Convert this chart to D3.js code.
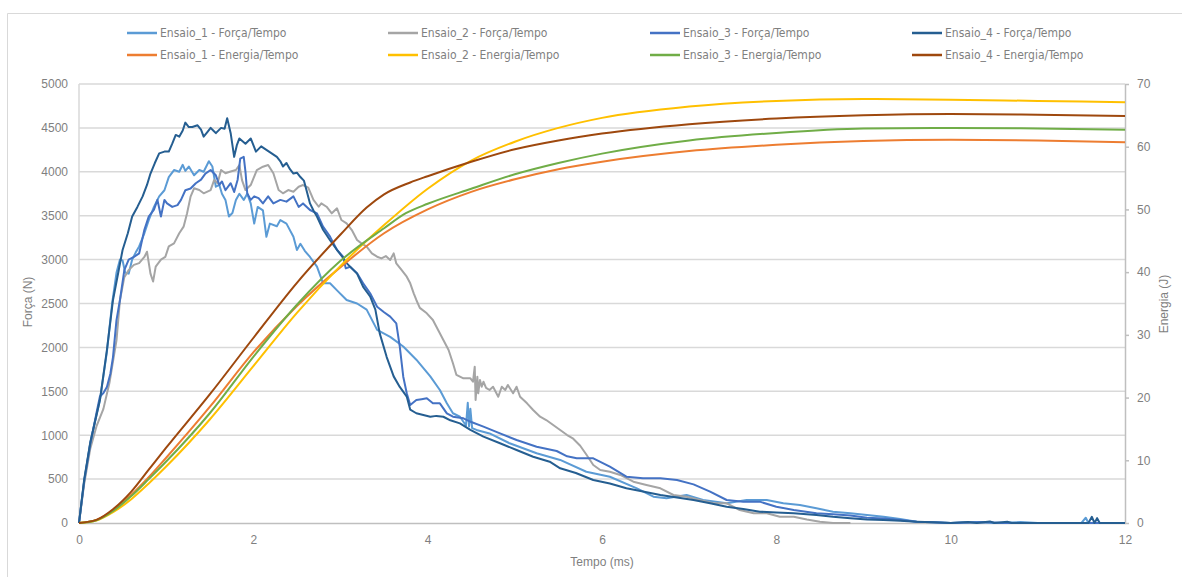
<!DOCTYPE html>
<html>
<head>
<meta charset="utf-8">
<script src="https://cdn.jsdelivr.net/npm/d3@7"></script>
<style>
  body { margin: 0; background: #ffffff; }
  svg text { font-family: "Liberation Sans", Arial, sans-serif; fill: #7f7f7f; }
  .legend text { font-family: "Liberation Sans Narrow", "DejaVu Sans Condensed", Arial, sans-serif; }
</style>
</head>
<body>
<svg id="chart" width="1182" height="577"></svg>
<script>
// ---- Axis ticks ----
const tempoTicks = [0, 2, 4, 6, 8, 10, 12];
const forcaTicks = [0, 500, 1000, 1500, 2000, 2500, 3000, 3500, 4000, 4500, 5000];
const energiaTicks = [0, 10, 20, 30, 40, 50, 60, 70];

// ---- Series names ----
const forcaNames = ["Ensaio_1 - Força/Tempo", "Ensaio_2 - Força/Tempo", "Ensaio_3 - Força/Tempo", "Ensaio_4 - Força/Tempo"];
const energiaNames = ["Ensaio_1 - Energia/Tempo", "Ensaio_2 - Energia/Tempo", "Ensaio_3 - Energia/Tempo", "Ensaio_4 - Energia/Tempo"];
const forcaColors = ["#5b9bd5", "#a5a5a5", "#4472c4", "#255e91"];
const energiaColors = ["#ed7d31", "#ffc000", "#70ad47", "#9e480e"];

// ---- Força (N) vs Tempo (ms): [tempo, força] ----
const forcaEnsaio1 = [[0,0],[0.06,480],[0.13,920],[0.24,1400],[0.32,1950],[0.38,2500],[0.43,2850],[0.47,3000],[0.5,2990],[0.53,2850],[0.57,2840],[0.61,3000],[0.65,3080],[0.69,3150],[0.75,3300],[0.8,3450],[0.86,3600],[0.92,3720],[0.98,3790],[1.03,3940],[1.09,4020],[1.15,4000],[1.19,4080],[1.22,4010],[1.26,4060],[1.32,3960],[1.38,4020],[1.43,4000],[1.49,4120],[1.53,4060],[1.57,3830],[1.61,3850],[1.64,3750],[1.68,3680],[1.72,3490],[1.76,3530],[1.8,3680],[1.84,3750],[1.89,3680],[1.93,3750],[1.97,3640],[2.01,3410],[2.05,3600],[2.11,3560],[2.15,3260],[2.19,3410],[2.27,3380],[2.31,3450],[2.38,3410],[2.46,3260],[2.5,3110],[2.54,3180],[2.59,3100],[2.65,3030],[2.73,2920],[2.8,2730],[2.88,2730],[2.96,2650],[3.07,2540],[3.19,2500],[3.3,2430],[3.42,2200],[3.57,2120],[3.72,2010],[3.87,1860],[4.03,1670],[4.14,1515],[4.22,1363],[4.29,1250],[4.37,1210],[4.44,1110],[4.46,1370],[4.475,1100],[4.49,1300],[4.51,1080],[4.56,1060],[4.71,1020],[4.94,908],[5.25,794],[5.52,718],[5.82,584],[6.09,527],[6.4,395],[6.59,300],[6.74,281],[6.97,319],[7.16,262],[7.43,224],[7.66,262],[7.89,262],[8.08,224],[8.27,205],[8.46,167],[8.65,129],[8.85,110],[9.04,90],[9.23,72],[9.42,45],[9.61,15],[9.8,8],[10.0,0],[10.3,12],[10.5,0],[10.8,10],[11.0,0],[11.5,0],[11.55,60],[11.58,0],[12,0]];

const forcaEnsaio2 = [[0,0],[0.06,450],[0.13,850],[0.2,1100],[0.28,1300],[0.35,1600],[0.43,2080],[0.47,2540],[0.52,2800],[0.57,2880],[0.63,2940],[0.69,2960],[0.75,3030],[0.78,3090],[0.82,2840],[0.85,2750],[0.88,2920],[0.94,3000],[0.99,3030],[1.03,3150],[1.09,3185],[1.15,3300],[1.2,3375],[1.24,3527],[1.28,3717],[1.32,3812],[1.38,3792],[1.43,3755],[1.51,3792],[1.55,3906],[1.59,3870],[1.63,4020],[1.68,3983],[1.73,4000],[1.8,4020],[1.84,4077],[1.87,3906],[1.91,3792],[1.97,3849],[2.04,4020],[2.11,4058],[2.17,4077],[2.23,3983],[2.29,3792],[2.34,3755],[2.4,3792],[2.46,3773],[2.52,3830],[2.57,3849],[2.63,3820],[2.69,3679],[2.75,3602],[2.78,3641],[2.84,3602],[2.9,3527],[2.96,3584],[3.01,3451],[3.07,3413],[3.13,3337],[3.19,3223],[3.24,3185],[3.3,3147],[3.36,3071],[3.42,3033],[3.47,3014],[3.52,3040],[3.57,2995],[3.61,3071],[3.64,2957],[3.7,2882],[3.76,2805],[3.8,2730],[3.84,2616],[3.87,2540],[3.91,2450],[3.99,2388],[4.06,2312],[4.12,2198],[4.18,2084],[4.24,1970],[4.29,1819],[4.33,1686],[4.41,1648],[4.49,1648],[4.52,1609],[4.54,1780],[4.55,1401],[4.57,1666],[4.58,1477],[4.6,1629],[4.62,1552],[4.64,1609],[4.67,1540],[4.71,1515],[4.75,1552],[4.81,1438],[4.85,1552],[4.89,1515],[4.92,1572],[4.98,1477],[5.02,1552],[5.06,1438],[5.14,1363],[5.21,1287],[5.29,1211],[5.36,1173],[5.44,1116],[5.52,1059],[5.6,1002],[5.67,960],[5.75,880],[5.82,780],[5.9,660],[5.98,604],[6.09,584],[6.21,547],[6.36,470],[6.51,433],[6.67,395],[6.82,319],[6.97,300],[7.12,262],[7.28,224],[7.43,224],[7.58,148],[7.74,110],[7.89,110],[8.04,72],[8.2,72],[8.35,40],[8.5,15],[8.65,0],[8.85,0]];

const forcaEnsaio3 = [[0,0],[0.06,480],[0.13,900],[0.2,1250],[0.24,1440],[0.28,1480],[0.32,1550],[0.36,1700],[0.39,1890],[0.43,2310],[0.47,2540],[0.52,2880],[0.57,3000],[0.63,3030],[0.69,3070],[0.75,3340],[0.8,3490],[0.86,3570],[0.9,3680],[0.94,3490],[0.98,3680],[1.01,3640],[1.07,3600],[1.13,3620],[1.17,3680],[1.22,3790],[1.28,3810],[1.34,3870],[1.4,3910],[1.45,3980],[1.51,4020],[1.57,3960],[1.61,3850],[1.64,3890],[1.68,3790],[1.74,3870],[1.78,3770],[1.82,3910],[1.85,4150],[1.89,4170],[1.91,4000],[1.93,3755],[1.97,3680],[2.01,3720],[2.06,3700],[2.11,3640],[2.17,3720],[2.23,3640],[2.31,3680],[2.38,3660],[2.46,3720],[2.52,3600],[2.57,3640],[2.65,3565],[2.73,3527],[2.8,3375],[2.88,3261],[2.96,3109],[3.03,3033],[3.06,2900],[3.11,2919],[3.19,2844],[3.26,2730],[3.34,2616],[3.42,2463],[3.5,2400],[3.57,2350],[3.64,2274],[3.68,2008],[3.72,1666],[3.76,1477],[3.8,1344],[3.87,1401],[3.93,1410],[3.99,1420],[4.06,1363],[4.14,1363],[4.22,1249],[4.29,1211],[4.41,1192],[4.5,1150],[4.64,1097],[4.83,1021],[5.02,945],[5.25,869],[5.48,820],[5.6,760],[5.71,737],[5.9,737],[6.09,641],[6.28,527],[6.47,509],[6.67,509],[6.86,490],[7.05,440],[7.24,357],[7.43,262],[7.62,243],[7.81,243],[8.0,186],[8.2,148],[8.46,110],[8.65,100],[8.85,85],[9.04,60],[9.23,50],[9.42,35],[9.61,15],[9.8,8],[10.0,0],[10.4,10],[10.6,0],[12,0]];

const forcaEnsaio4 = [[0,0],[0.06,500],[0.13,920],[0.24,1400],[0.32,1970],[0.39,2540],[0.45,2850],[0.5,3110],[0.56,3300],[0.61,3490],[0.67,3600],[0.73,3720],[0.78,3850],[0.82,3980],[0.87,4100],[0.92,4210],[0.98,4230],[1.03,4230],[1.07,4320],[1.11,4420],[1.15,4400],[1.19,4470],[1.22,4560],[1.26,4510],[1.3,4510],[1.36,4530],[1.4,4480],[1.43,4400],[1.47,4450],[1.51,4500],[1.54,4470],[1.57,4440],[1.63,4500],[1.67,4490],[1.7,4610],[1.74,4440],[1.78,4170],[1.81,4300],[1.84,4380],[1.91,4320],[1.97,4380],[2.03,4230],[2.09,4290],[2.15,4250],[2.21,4210],[2.27,4170],[2.31,4120],[2.34,4060],[2.38,4100],[2.42,4030],[2.46,3980],[2.5,3990],[2.54,3940],[2.58,3900],[2.61,3790],[2.65,3640],[2.69,3560],[2.73,3490],[2.8,3340],[2.88,3220],[2.96,3110],[3.03,3020],[3.07,2960],[3.13,2900],[3.19,2840],[3.26,2690],[3.34,2580],[3.4,2430],[3.45,2160],[3.53,1890],[3.61,1670],[3.68,1550],[3.76,1440],[3.8,1290],[3.87,1250],[3.95,1230],[4.03,1210],[4.1,1220],[4.18,1210],[4.26,1170],[4.37,1135],[4.49,1060],[4.64,983],[4.83,908],[5.02,831],[5.21,755],[5.4,698],[5.52,623],[5.7,570],[5.9,490],[6.09,450],[6.28,395],[6.47,360],[6.67,319],[6.86,290],[7.05,262],[7.24,225],[7.43,186],[7.62,160],[7.81,129],[8.0,120],[8.2,110],[8.46,91],[8.65,70],[8.85,53],[9.04,40],[9.23,34],[9.42,25],[9.61,15],[9.8,8],[10.0,0],[10.2,12],[10.3,0],[10.45,18],[10.5,0],[10.65,14],[10.7,0],[11.58,0],[11.62,70],[11.65,0],[11.68,55],[11.71,0],[12,0]];

// ---- Energia (J) vs Tempo (ms): [tempo, energia] ----
const energiaEnsaio1 = [[0,0],[0.2,0.5],[0.4,2.1],[0.6,4.5],[0.8,7.3],[1.0,10.4],[1.5,18.5],[2.0,27.2],[2.5,34.6],[3.0,40.8],[3.5,46.2],[4.0,50.0],[4.5,52.8],[5.0,54.8],[5.5,56.4],[6.0,57.6],[7.0,59.3],[8.0,60.3],[9.0,60.9],[10.0,61.1],[11.0,61.0],[12.0,60.7]];
const energiaEnsaio2 = [[0,0],[0.2,0.4],[0.4,1.8],[0.6,3.8],[0.8,6.3],[1.0,9.0],[1.5,16.5],[2.0,25.0],[2.5,33.5],[3.0,41.0],[3.5,47.5],[4.0,53.3],[4.5,57.8],[5.0,60.8],[5.5,63.0],[6.0,64.6],[7.0,66.4],[8.0,67.3],[9.0,67.6],[10.0,67.5],[11.0,67.3],[12.0,67.1]];
const energiaEnsaio3 = [[0,0],[0.2,0.45],[0.4,2.0],[0.6,4.3],[0.8,7.0],[1.0,9.8],[1.5,17.5],[2.0,26.5],[2.5,34.8],[3.0,41.8],[3.5,47.0],[3.75,49.4],[4.0,50.9],[4.5,53.3],[5.0,55.6],[5.5,57.4],[6.0,58.9],[7.0,61.0],[8.0,62.2],[9.0,62.9],[10.0,63.0],[11.0,62.9],[12.0,62.7]];
const energiaEnsaio4 = [[0,0],[0.2,0.5],[0.4,2.3],[0.6,5.0],[0.8,8.5],[1.0,12.0],[1.5,20.5],[2.0,29.5],[2.5,38.3],[3.0,46.0],[3.3,50.3],[3.5,52.4],[3.8,54.3],[4.0,55.3],[4.5,57.6],[5.0,59.6],[5.5,61.0],[6.0,62.1],[7.0,63.6],[8.0,64.5],[9.0,65.0],[10.0,65.2],[11.0,65.1],[12.0,64.9]];

const forcaSeries = [forcaEnsaio1, forcaEnsaio2, forcaEnsaio3, forcaEnsaio4];
const energiaSeries = [energiaEnsaio1, energiaEnsaio2, energiaEnsaio3, energiaEnsaio4];

// ---- Layout ----
const svg = d3.select("#chart");
const plot = { left: 79, right: 1125, top: 84, bottom: 523 };

const x = d3.scaleLinear().domain([0, 12]).range([plot.left, plot.right]);
const yF = d3.scaleLinear().domain([0, 5000]).range([plot.bottom, plot.top]);
const yE = d3.scaleLinear().domain([0, 70]).range([plot.bottom, plot.top]);

// chart frame
svg.append("path")
  .attr("d", "M7.5,577 V13.5 H1182")
  .attr("fill", "none").attr("stroke", "#d9d9d9").attr("stroke-width", 1);

// horizontal gridlines (primary axis)
svg.append("g").selectAll("line")
  .data(forcaTicks.filter(d => d > 0))
  .join("line")
  .attr("x1", plot.left).attr("x2", plot.right)
  .attr("y1", d => yF(d)).attr("y2", d => yF(d))
  .attr("stroke", "#d9d9d9").attr("stroke-width", 1.5);

// left vertical line
svg.append("line")
  .attr("x1", plot.left).attr("x2", plot.left)
  .attr("y1", plot.top).attr("y2", plot.bottom)
  .attr("stroke", "#d9d9d9").attr("stroke-width", 1.5);

// left axis
const axL = svg.append("g")
  .attr("transform", `translate(${plot.left},0)`)
  .call(d3.axisLeft(yF).tickValues(forcaTicks).tickSize(0).tickPadding(11).tickFormat(d3.format("d")));
axL.select(".domain").remove();

// bottom axis
const axB = svg.append("g")
  .attr("transform", `translate(0,${plot.bottom})`)
  .call(d3.axisBottom(x).tickValues(tempoTicks).tickSize(0).tickPadding(12).tickFormat(d3.format("d")));
axB.select(".domain").attr("stroke", "#bfbfbf").attr("stroke-width", 1.5);

// right axis
const axR = svg.append("g")
  .attr("transform", `translate(${plot.right},0)`)
  .call(d3.axisRight(yE).tickValues(energiaTicks).tickSize(4).tickSizeOuter(0).tickPadding(8).tickFormat(d3.format("d")));
axR.select(".domain").attr("stroke", "#bfbfbf").attr("stroke-width", 1.5);
axR.selectAll(".tick line").attr("stroke", "#bfbfbf").attr("stroke-width", 1.5);

svg.selectAll(".tick text").attr("font-size", 12).attr("fill", "#7f7f7f")
  .style("font-family", '"Liberation Sans", Arial, sans-serif');

// axis titles
svg.append("text").attr("x", 602).attr("y", 566)
  .attr("text-anchor", "middle").attr("font-size", 12).text("Tempo (ms)");
svg.append("text").attr("transform", "translate(32,302) rotate(-90)")
  .attr("text-anchor", "middle").attr("font-size", 12).text("Força (N)");
svg.append("text").attr("transform", "translate(1164,304) rotate(-90)")
  .attr("text-anchor", "middle").attr("dominant-baseline", "central").attr("font-size", 12).text("Energia (J)");

// lines
const lineF = d3.line().x(d => x(d[0])).y(d => yF(d[1]));
const lineE = d3.line().x(d => x(d[0])).y(d => yE(d[1])).curve(d3.curveMonotoneX);

svg.append("g").selectAll("path")
  .data(forcaSeries)
  .join("path")
  .attr("d", lineF)
  .attr("fill", "none")
  .attr("stroke", (d, i) => forcaColors[i])
  .attr("stroke-width", 2)
  .attr("stroke-linejoin", "round");

svg.append("g").selectAll("path")
  .data(energiaSeries)
  .join("path")
  .attr("d", lineE)
  .attr("fill", "none")
  .attr("stroke", (d, i) => energiaColors[i])
  .attr("stroke-width", 2);

// legend: four columns, força on the first row, energia on the second
const legendCols = [127, 388, 650, 912];
const legendRows = [33, 55];
const legend = svg.append("g").attr("class", "legend");
const legendItems = [];
for (let i = 0; i < 4; i++) {
  legendItems.push({ name: forcaNames[i], color: forcaColors[i], col: i, row: 0 });
  legendItems.push({ name: energiaNames[i], color: energiaColors[i], col: i, row: 1 });
}
const li = legend.selectAll("g").data(legendItems).join("g")
  .attr("transform", d => `translate(${legendCols[d.col]},${legendRows[d.row]})`);
li.append("line").attr("x1", 0).attr("x2", 30).attr("y1", 0).attr("y2", 0)
  .attr("stroke", d => d.color).attr("stroke-width", 2.5);
li.append("text").attr("x", 33).attr("y", 0).attr("dominant-baseline", "central")
  .attr("font-size", 12).text(d => d.name);
</script>
</body>
</html>
